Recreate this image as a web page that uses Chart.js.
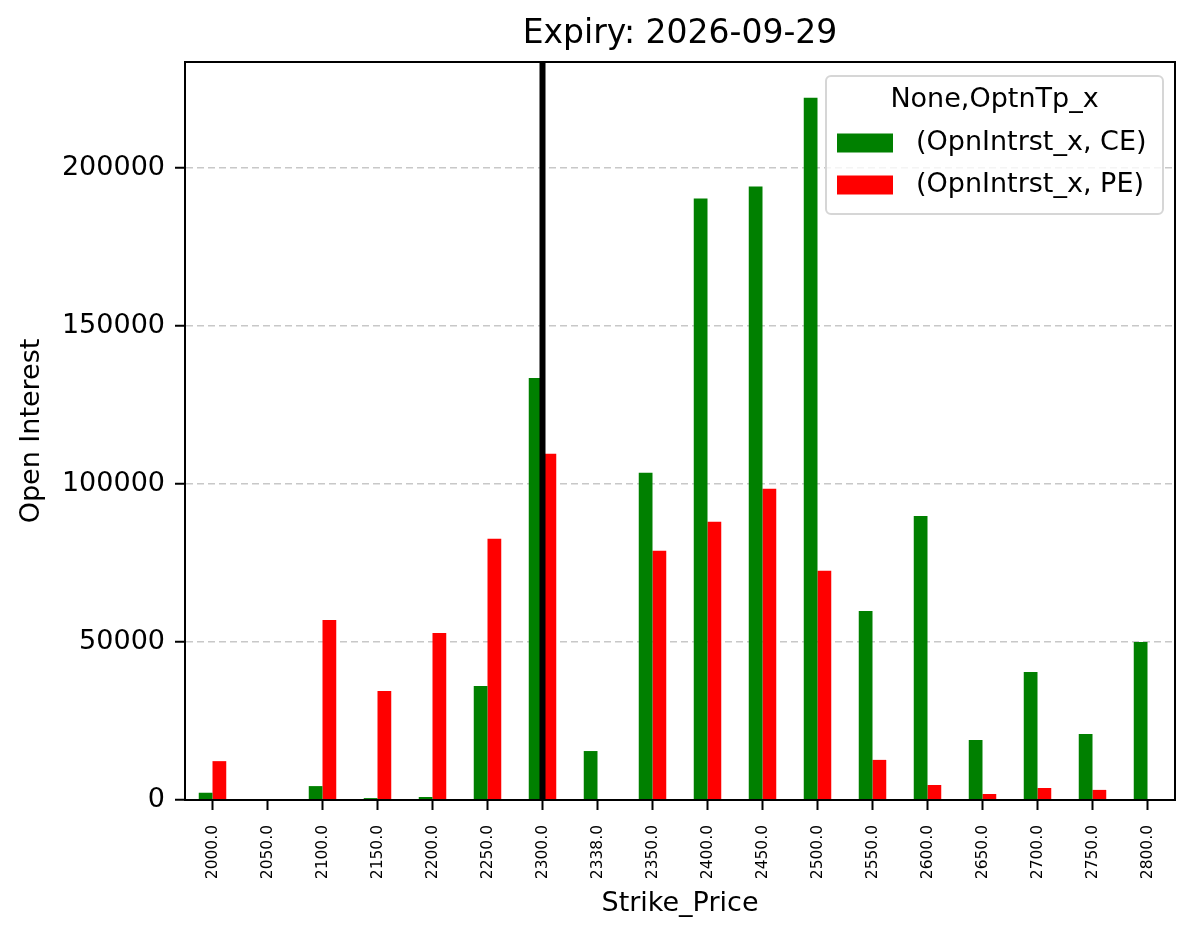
<!DOCTYPE html>
<html>
<head>
<meta charset="utf-8">
<script src="https://cdn.jsdelivr.net/npm/chart.js@4.4.1/dist/chart.umd.min.js"></script>
<style>
  html, body { margin: 0; padding: 0; background: #fff; }
  #wrap { width: 1196px; height: 939px; position: relative; }
</style>
</head>
<body>
<div id="wrap"><canvas id="oiChart" width="1196" height="939"></canvas></div>
<script>
// data
const strikes = ['2000.0', '2050.0', '2100.0', '2150.0', '2200.0', '2250.0', '2300.0', '2338.0', '2350.0',
                 '2400.0', '2450.0', '2500.0', '2550.0', '2600.0', '2650.0', '2700.0', '2750.0', '2800.0'];
const ceOI = [2300, 0, 4400, 600, 950, 36100, 133600, 15500, 103600, 190400, 194200, 222300, 59800, 89900, 19000, 40500, 20900, 50000];
const peOI = [12300, 0, 57000, 34500, 52900, 82700, 109600, 0, 78900, 88100, 98500, 72600, 12700, 4750, 1900, 3800, 3200, 300];
const yTicks = [0, 50000, 100000, 150000, 200000];
const yMax = 233600;
const spotStrike = '2300.0';

const chartTitle = 'Expiry: 2026-09-29';
const xTitle = 'Strike_Price';
const yTitle = 'Open Interest';
const legendTitle = 'None,OptnTp_x';

const FONT = "'DejaVu Sans', 'Liberation Sans', sans-serif";

// extra drawing: frame, spot line, titles, legend
const decorations = {
    id: 'decorations',
    afterDatasetsDraw(chart) {
        const ctx = chart.ctx;
        const area = chart.chartArea;
        const x = chart.scales.x.getPixelForValue(strikes.indexOf(spotStrike));
        ctx.save();
        ctx.strokeStyle = '#000';
        ctx.lineWidth = 6;
        ctx.beginPath();
        ctx.moveTo(x, area.top);
        ctx.lineTo(x, area.bottom);
        ctx.stroke();
        ctx.restore();
    },
    afterDraw(chart) {
        const ctx = chart.ctx;
        const area = chart.chartArea;
        const cx = (area.left + area.right) / 2;
        ctx.save();

        // frame
        ctx.strokeStyle = '#000';
        ctx.lineWidth = 2;
        ctx.strokeRect(area.left, area.top, area.right - area.left, area.bottom - area.top);

        // titles
        ctx.fillStyle = '#000';
        ctx.textAlign = 'center';
        ctx.textBaseline = 'middle';
        ctx.font = '33px ' + FONT;
        ctx.fillText(chartTitle, cx, 34);
        ctx.font = '27px ' + FONT;
        ctx.fillText(xTitle, cx, 904);
        ctx.save();
        ctx.translate(32, (area.top + area.bottom) / 2);
        ctx.rotate(-Math.PI / 2);
        ctx.fillText(yTitle, 0, 0);
        ctx.restore();

        // legend
        const lx = 826, ly = 76, lw = 337, lh = 138;
        ctx.beginPath();
        ctx.roundRect(lx, ly, lw, lh, 5);
        ctx.fillStyle = 'rgba(255,255,255,0.8)';
        ctx.fill();
        ctx.strokeStyle = '#d6d6d6';
        ctx.lineWidth = 2;
        ctx.stroke();

        ctx.fillStyle = '#000';
        ctx.textAlign = 'center';
        ctx.font = '27px ' + FONT;
        ctx.fillText(legendTitle, lx + lw / 2, 100);

        ctx.textAlign = 'left';
        chart.data.datasets.forEach((ds, i) => {
            const ry = 143 + i * 42;
            ctx.fillStyle = ds.backgroundColor;
            ctx.fillRect(837, ry - 9.5, 56, 19);
            ctx.fillStyle = '#000';
            ctx.fillText(ds.label, 916, ry);
        });
        ctx.restore();
    }
};

const ctx = document.getElementById('oiChart').getContext('2d');
const oiChart = new Chart(ctx, {
    type: 'bar',
    data: {
        labels: strikes,
        datasets: [{
            label: '(OpnIntrst_x, CE)',
            data: ceOI,
            backgroundColor: '#008000',
            categoryPercentage: 0.5,
            barPercentage: 1.0
        }, {
            label: '(OpnIntrst_x, PE)',
            data: peOI,
            backgroundColor: '#ff0000',
            categoryPercentage: 0.5,
            barPercentage: 1.0
        }]
    },
    options: {
        responsive: false,
        animation: false,
        devicePixelRatio: 1,
        layout: { padding: { left: 0, top: 62, right: 21, bottom: 0 } },
        plugins: {
            legend: { display: false },
            title: { display: false },
            tooltip: { enabled: false }
        },
        scales: {
            x: {
                afterFit: scale => { scale.height = 139; },
                grid: {
                    display: true,
                    offset: false,
                    drawOnChartArea: false,
                    drawTicks: true,
                    tickLength: 10,
                    tickColor: '#000',
                    tickWidth: 2
                },
                border: { display: true, color: '#000', width: 2 },
                ticks: {
                    autoSkip: false,
                    minRotation: 90,
                    maxRotation: 90,
                    padding: 15,
                    color: '#000',
                    font: { family: FONT, size: 15.5 }
                }
            },
            y: {
                min: 0,
                max: yMax,
                afterFit: scale => { scale.width = 185; },
                afterBuildTicks: scale => { scale.ticks = yTicks.map(v => ({ value: v })); },
                grid: {
                    color: '#c8c8c8',
                    lineWidth: 1.5,
                    tickLength: 10,
                    tickColor: '#000',
                    tickWidth: 2,
                    tickBorderDash: []
                },
                border: { display: true, color: '#000', width: 2, dash: [7, 4] },
                ticks: {
                    padding: 10,
                    color: '#000',
                    font: { family: FONT, size: 27 },
                    callback: v => String(v)
                }
            }
        }
    },
    plugins: [decorations]
});
</script>
</body>
</html>
